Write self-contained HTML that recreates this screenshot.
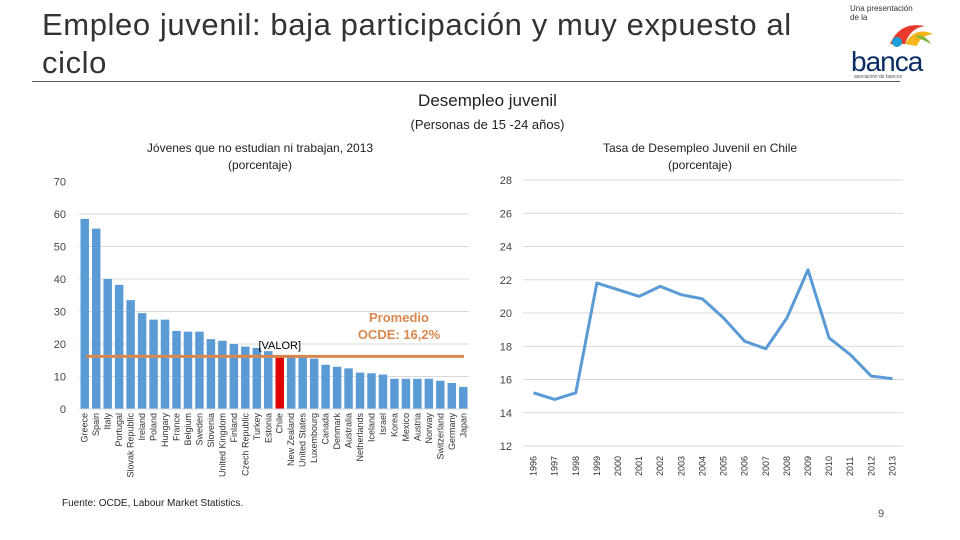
<!DOCTYPE html>
<html><head><meta charset="utf-8">
<style>
body{margin:0;width:960px;height:540px;background:#fff;font-family:"Liberation Sans",sans-serif;position:relative;overflow:hidden}
.abs{position:absolute}
</style></head><body>
<div class="abs" style="left:42px;top:6px;font-size:31px;line-height:38px;color:#333;width:800px;letter-spacing:0.6px">Empleo juvenil: baja participación y muy expuesto al ciclo</div>
<div class="abs" style="left:32px;top:81px;width:868px;height:1px;background:#555"></div>
<div class="abs" style="left:850px;top:4px;width:90px;height:75px">
 <div style="font-size:8px;color:#333;line-height:9px">Una presentación<br>de la</div>
 <svg class="abs" style="left:35px;top:12px" width="50" height="34"><path d="M5 28 Q15 5 40 10 Q25 12 20 28Z" fill="#e8392b"/><path d="M20 28 Q30 10 48 18 Q35 20 32 30Z" fill="#f7b51c"/><circle cx="12" cy="26" r="5" fill="#1c9fd6"/><path d="M30 20 Q40 18 46 28 Z" fill="#7bb83c"/></svg>
 <div class="abs" style="left:1px;top:42px;font-size:28px;color:#0b2d63;letter-spacing:-1px">banca</div>
 <div class="abs" style="left:4px;top:70px;font-size:5px;color:#555">asociación de bancos</div>
</div>
<div class="abs" style="left:0;width:975px;top:91px;text-align:center;font-size:17px;color:#222">Desempleo juvenil</div>
<div class="abs" style="left:0;width:975px;top:117px;text-align:center;font-size:13px;color:#222">(Personas de 15 -24 años)</div>
<div class="abs" style="left:110px;width:300px;top:140px;text-align:center;font-size:12px;line-height:17px;color:#222">Jóvenes que no estudian ni trabajan, 2013<br>(porcentaje)</div>
<div class="abs" style="left:550px;width:300px;top:140px;text-align:center;font-size:12px;line-height:17px;color:#222">Tasa de Desempleo Juvenil en Chile<br>(porcentaje)</div>
<div class="abs" style="left:62px;top:498px;font-size:10px;color:#222">Fuente: OCDE, Labour Market Statistics.</div>
<div class="abs" style="left:878px;top:508px;font-size:11px;color:#555">9</div>
<svg class="abs" style="left:0;top:0" width="960" height="540" id="svg"></svg>
<script>
const countries=["Greece","Spain","Italy","Portugal","Slovak Republic","Ireland","Poland","Hungary","France","Belgium","Sweden","Slovenia","United Kingdom","Finland","Czech Republic","Turkey","Estonia","Chile","New Zealand","United States","Luxembourg","Canada","Denmark","Australia","Netherlands","Iceland","Israel","Korea","Mexico","Austria","Norway","Switzerland","Germany","Japan"];
const neetValues=[58.5,55.5,40,38.2,33.5,29.5,27.5,27.5,24,23.8,23.8,21.5,21,20,19.2,18.8,17.8,16,16,16,15.5,13.6,13,12.5,11.2,11,10.6,9.3,9.3,9.3,9.3,8.7,8,6.8];
const oecdAvg=[16.2];
const leftTicks=[0,10,20,30,40,50,60,70];
const years=["1996","1997","1998","1999","2000","2001","2002","2003","2004","2005","2006","2007","2008","2009","2010","2011","2012","2013"];
const chileValues=[15.2,14.8,15.2,21.8,21.4,21.0,21.6,21.1,20.85,19.7,18.3,17.85,19.7,22.6,18.5,17.5,16.2,16.05];
const rightTicks=[12,14,16,18,20,22,24,26,28];
const svg=document.getElementById('svg');const NS="http://www.w3.org/2000/svg";
function mk(t,a,txt){const e=document.createElementNS(NS,t);for(const k in a)e.setAttribute(k,a[k]);if(txt!=null)e.textContent=txt;svg.appendChild(e);return e;}
const ly=v=>409-v*3.25, lx0=79, lx1=469, slot=(lx1-lx0)/countries.length;
leftTicks.forEach(t=>{if(t>0&&t<70){const g=mk('line',{x1:lx0,x2:lx1,y1:ly(t),y2:ly(t),stroke:'#d9d9d9'});}
 const l=mk('text',{x:66,y:ly(t)+4,'text-anchor':'end','font-size':11,fill:'#444'},t);});
countries.forEach((c,i)=>{const x=lx0+i*slot+1.5,w=slot-3;
 const b=mk('rect',{x:x,y:ly(neetValues[i]),width:w,height:neetValues[i]*3.25,fill:c==="Chile"?'#e00000':'#5b9bd5'});
 
 const cx=x+w/2+3;const t=mk('text',{x:cx,y:413,'text-anchor':'end','font-size':9,fill:'#333',transform:`rotate(-90 ${cx} 413)`},c);
 });
const ax=mk('line',{x1:lx0,x2:lx1,y1:409,y2:409,stroke:'#d9d9d9'});
const av=mk('line',{x1:86,x2:464,y1:ly(oecdAvg[0]),y2:ly(oecdAvg[0]),stroke:'#d9874e','stroke-width':3});
const ci=countries.indexOf("Chile");
const vl=mk('text',{x:lx0+ci*slot+slot/2,y:349,'text-anchor':'middle','font-size':11,fill:'#000'},'[VALOR]');
const p1=mk('text',{x:399,y:322,'text-anchor':'middle','font-size':13,'font-weight':'bold',fill:'#d9874e'},'Promedio');
const p2=mk('text',{x:399,y:339,'text-anchor':'middle','font-size':13,'font-weight':'bold',fill:'#d9874e'},'OCDE: 16,2%');
const ry=v=>446-(v-12)*16.625, rx0=523, rx1=903, rs=(rx1-rx0)/years.length, rx=i=>rx0+rs*(i+0.5);
rightTicks.forEach(t=>{const g=mk('line',{x1:rx0,x2:rx1,y1:ry(t),y2:ry(t),stroke:'#d9d9d9'});
 const l=mk('text',{x:512,y:ry(t)+4,'text-anchor':'end','font-size':11,fill:'#444'},t);});
years.forEach((y,i)=>{const cx=rx(i)+3;const t=mk('text',{x:cx,y:476,'text-anchor':'start','font-size':9,fill:'#333',transform:`rotate(-90 ${cx} 476)`},y);});
const ln=mk('polyline',{points:chileValues.map((v,i)=>rx(i)+','+ry(v)).join(' '),fill:'none',stroke:'#5b9bd5','stroke-width':3,'stroke-linejoin':'round'});

</script>
</body></html>
